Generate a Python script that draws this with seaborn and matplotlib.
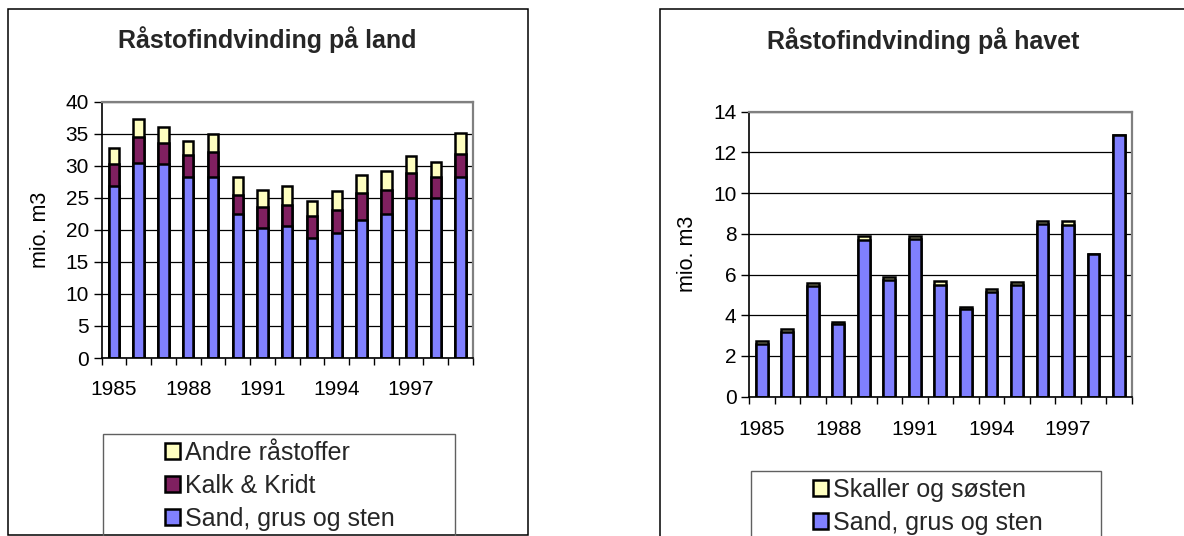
import matplotlib
matplotlib.use("Agg")
import matplotlib.pyplot as plt
import seaborn as sns
import numpy as np
import pandas as pd
from matplotlib.patches import Patch, Rectangle

# ---------------- data ----------------
years = [str(y) for y in range(1985, 2000)]

land_sand = [26.8, 30.4, 30.3, 28.3, 28.3, 22.4, 20.3, 20.6, 18.8, 19.5, 21.6, 22.5, 25.0, 24.9, 28.3]
land_kalk = [3.4, 4.1, 3.3, 3.4, 3.9, 3.0, 3.3, 3.3, 3.4, 3.6, 4.1, 3.7, 3.9, 3.4, 3.5]
land_andre = [2.5, 2.8, 2.4, 2.2, 2.7, 2.8, 2.6, 3.0, 2.3, 3.0, 2.9, 3.0, 2.6, 2.3, 3.3]

havet_sand = [2.6, 3.2, 5.45, 3.55, 7.7, 5.75, 7.75, 5.5, 4.3, 5.15, 5.5, 8.5, 8.45, 7.0, 12.85]
havet_skaller = [0.12, 0.12, 0.12, 0.12, 0.2, 0.12, 0.15, 0.16, 0.12, 0.12, 0.12, 0.14, 0.18, 0.0, 0.03]

title_land = "Råstofindvinding på land"
title_havet = "Råstofindvinding på havet"
ylabel = "mio. m3"
lbl_andre = "Andre råstoffer"
lbl_kalk = "Kalk & Kridt"
lbl_sand = "Sand, grus og sten"
lbl_skaller = "Skaller og søsten"

c_sand = "#8080FF"
c_kalk = "#802060"
c_andre = "#FFFFC0"

# ---------------- style ----------------
sns.set_theme(style="white")
plt.rcParams["font.family"] = ["Liberation Sans", "DejaVu Sans"]

W, H = 1184, 536
fig = plt.figure(figsize=(W / 100, H / 100), dpi=100)
fig.patch.set_facecolor("white")


def fx(px):
    return px / W


def fy(py):
    return 1 - py / H


def make_ax(x0, x1, y0, y1):
    return fig.add_axes([fx(x0), fy(y1), fx(x1) - fx(x0), (y1 - y0) / H])


EDGE_LW = 1.8


def bars(ax, values, color, width):
    df = pd.DataFrame({"year": years, "v": values})
    sns.barplot(data=df, x="year", y="v", order=years, color=color, saturation=1,
                width=width, edgecolor="black", linewidth=EDGE_LW, ax=ax, errorbar=None)


def style_axes(ax, ymax, ystep, xpad, label_x):
    ax.set_xlim(-0.5, 14.5)
    ax.set_ylim(0, ymax)
    ax.set_yticks(np.arange(0, ymax + 0.001, ystep))
    ax.set_yticklabels([f"{int(v)}" for v in np.arange(0, ymax + 0.001, ystep)])
    ax.yaxis.grid(True, color="black", lw=0.9)
    ax.xaxis.grid(False)
    ax.set_axisbelow(True)
    ax.set_xticks(list(range(0, 15, 3)))
    ax.set_xticklabels([years[i] for i in range(0, 15, 3)])
    ax.set_xticks(np.arange(-0.5, 15, 1), minor=True)
    ax.tick_params(axis="x", which="major", length=0, pad=xpad, labelsize=15, colors="black")
    ax.tick_params(axis="x", which="minor", length=5, width=1, color="black",
                   direction="out", bottom=True)
    ax.tick_params(axis="y", which="major", length=5.5, width=1, pad=3.5, labelsize=15,
                   direction="out", left=True, colors="black")
    ax.set_xlabel("")
    ax.set_ylabel(ylabel, fontsize=15.5, color="black")
    ax.yaxis.set_label_coords(label_x, 0.5)
    for s in ["left", "bottom"]:
        ax.spines[s].set_color("black")
        ax.spines[s].set_linewidth(1.2)
    for s in ["top", "right"]:
        ax.spines[s].set_color("#808080")
        ax.spines[s].set_linewidth(1.6)
    ax.set_facecolor("white")


# ---------------- left chart ----------------
axL = make_ax(101.5, 473, 101.7, 358)
land_k_top = [s + k for s, k in zip(land_sand, land_kalk)]
land_total = [s + k + a for s, k, a in zip(land_sand, land_kalk, land_andre)]
bars(axL, land_total, c_andre, 0.42)
bars(axL, land_k_top, c_kalk, 0.42)
bars(axL, land_sand, c_sand, 0.42)
style_axes(axL, 40, 5, 16, -0.136)

# ---------------- right chart ----------------
axR = make_ax(749, 1131.7, 111.8, 396.6)
havet_total = [s + k for s, k in zip(havet_sand, havet_skaller)]
bars(axR, havet_total, c_andre, 0.46)
bars(axR, havet_sand, c_sand, 0.46)
style_axes(axR, 14, 2, 16.5, -0.132)

# ---------------- titles ----------------
fig.text(fx(267), fy(40), title_land, ha="center", va="center", fontsize=18, fontweight="bold")
fig.text(fx(923), fy(41), title_havet, ha="center", va="center", fontsize=18, fontweight="bold")

# ---------------- frames ----------------
fig.patches.append(Rectangle((fx(7.7), fy(535)), fx(528) - fx(7.7), (535 - 8.5) / H,
                             transform=fig.transFigure, fill=False, edgecolor="black", lw=1.1))
fig.patches.append(Rectangle((fx(660), -0.2), 1.0, fy(8.5) + 0.2,
                             transform=fig.transFigure, fill=False, edgecolor="black", lw=1.1))
# legend boxes
fig.patches.append(Rectangle((fx(103), -0.2), fx(455) - fx(103), fy(434) + 0.2,
                             transform=fig.transFigure, fill=False, edgecolor="#606060", lw=1.0))
fig.patches.append(Rectangle((fx(751), -0.2), fx(1101) - fx(751), fy(471) + 0.2,
                             transform=fig.transFigure, fill=False, edgecolor="#606060", lw=1.0))


def patch(c):
    return Patch(facecolor=c, edgecolor="black", linewidth=1.8)


leg_kw = dict(loc="upper center", frameon=False, fontsize=18, handlelength=0.6,
              handleheight=0.6, handletextpad=0.2, labelspacing=0.36, borderpad=0,
              borderaxespad=0)
fig.legend([patch(c_andre), patch(c_kalk), patch(c_sand)], [lbl_andre, lbl_kalk, lbl_sand],
           bbox_to_anchor=(fx(280), fy(441)), **leg_kw)
fig.legend([patch(c_andre), patch(c_sand)], [lbl_skaller, lbl_sand],
           bbox_to_anchor=(fx(928), fy(478)), **leg_kw)

fig.savefig("out.png", dpi=100, facecolor="white")
